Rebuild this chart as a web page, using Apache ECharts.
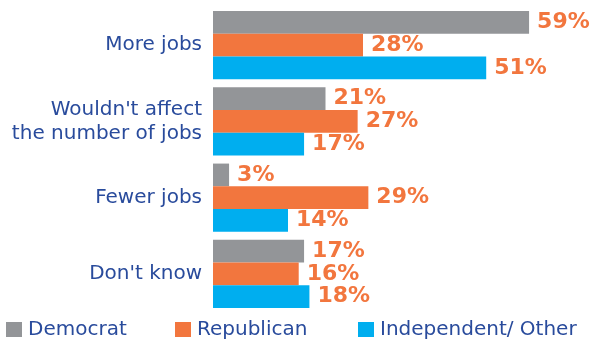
<!DOCTYPE html>
<html>
<head>
<meta charset="utf-8">
<script src="https://cdn.jsdelivr.net/npm/echarts@6/dist/echarts.min.js"></script>
<style>
html,body{margin:0;padding:0;background:#fff;}
#chart{width:592px;height:343px;}
</style>
</head>
<body>
<div id="chart"></div>
<script>
const categories = ["More jobs", "Wouldn't affect\nthe number of jobs", "Fewer jobs", "Don't know"];
const seriesNames = ["Democrat", "Republican", "Independent/ Other"];
const democrat = [59, 21, 3, 17];
const republican = [28, 27, 29, 16];
const independent = [51, 17, 14, 18];

const colors = ["#939598", "#f2763e", "#00aeef"];
const textBlue = "#294b9c";
const labelOrange = "#f2763e";
const FONT = "DejaVu Sans";

function makeSeries(name, data, color) {
  return {
    name: name,
    type: 'bar',
    data: data,
    barWidth: 22.7,
    barGap: '0%',
    itemStyle: { color: color },
    label: {
      show: true,
      position: 'right',
      distance: 8,
      formatter: '{c}%',
      color: labelOrange,
      fontFamily: FONT,
      fontWeight: 'bold',
      fontSize: 22
    },
    animation: false
  };
}

const chart = echarts.init(document.getElementById('chart'), null, { renderer: 'canvas' });
const legendCommon = {
  icon: 'rect',
  itemWidth: 16,
  itemHeight: 15,
  itemGap: 6,
  top: 319.5,
  padding: 0,
  textStyle: { color: textBlue, fontFamily: FONT, fontSize: 20, lineHeight: 20, padding: [0, 0, 0, 1] }
};
chart.setOption({
  animation: false,
  color: colors,
  grid: { left: 213, right: 4, top: 7, height: 305, containLabel: false },
  xAxis: {
    type: 'value',
    min: 0,
    max: 70,
    show: false
  },
  yAxis: {
    type: 'category',
    inverse: true,
    data: categories,
    axisLine: { show: false },
    axisTick: { show: false },
    axisLabel: {
      margin: 11,
      color: textBlue,
      fontFamily: FONT,
      fontSize: 20,
      lineHeight: 24,
      align: 'right'
    }
  },
  legend: [
    Object.assign({}, legendCommon, { left: 6, data: [seriesNames[0]] }),
    Object.assign({}, legendCommon, { left: 175, data: [seriesNames[1]] }),
    Object.assign({}, legendCommon, { left: 358, data: [seriesNames[2]] })
  ],
  series: [
    makeSeries(seriesNames[0], democrat, colors[0]),
    makeSeries(seriesNames[1], republican, colors[1]),
    makeSeries(seriesNames[2], independent, colors[2])
  ]
});
</script>
</body>
</html>
